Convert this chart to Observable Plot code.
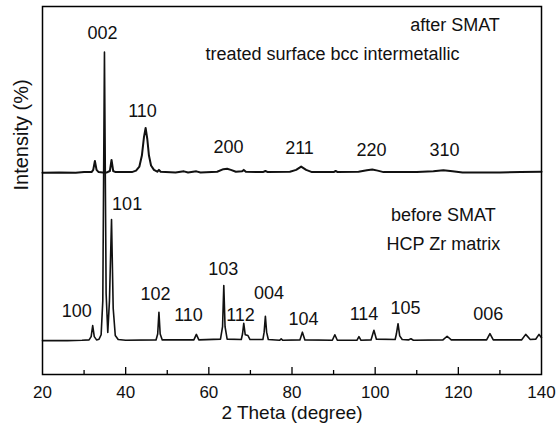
<!DOCTYPE html>
<html><head><meta charset="utf-8">
<script src="https://cdn.jsdelivr.net/npm/d3@7"></script>
<script src="https://cdn.jsdelivr.net/npm/@observablehq/plot@0.6"></script>
<style>body{margin:0;background:#fff}</style>
</head><body><div id="chart"></div>
<script>
// After SMAT (treated surface, bcc intermetallic) — displayed intensity (offset trace)
const afterTheta = [20,24,28,30,31.8,32.2,32.6,33.0,33.5,34.5,35.5,36.2,36.6,37.0,37.6,41.5,42.5,43.3,43.9,44.4,44.8,45.2,45.6,46.1,46.8,47.6,48.0,48.4,52,54,55,57,58,62,63.5,64.4,65.3,66.5,68.0,68.4,68.9,73,73.6,74.2,79.5,81.0,82.2,83.4,84.8,90.0,90.5,91,96,98,99.3,100.6,102,110,114,116.4,118.6,121,130,135,140];
const afterIntensity = [54.8,54.9,54.8,55.0,55.0,55.6,58.0,55.6,55.0,54.9,54.9,55.3,58.3,55.3,55.0,55.0,55.4,56.5,59.5,64.5,67.0,64.0,59.5,56.8,55.6,55.1,55.6,55.1,54.9,55.2,54.9,55.2,54.9,55.1,55.8,55.9,55.6,55.1,55.2,55.6,55.1,55.0,55.3,55.0,55.1,55.6,56.5,55.6,55.0,55.0,55.3,55.0,55.1,55.5,55.7,55.4,55.0,55.0,55.2,55.5,55.2,54.9,54.9,55.0,55.1];

// Before SMAT (HCP Zr matrix)
const beforeTheta = [20,26,29.5,31.2,31.7,32.07,32.45,33.0,33.6,34.1,34.5,34.9,35.3,35.7,36.1,36.6,37.0,37.5,38.2,40,47.3,47.7,48.0,48.3,48.8,56.4,57.0,57.6,62.8,63.3,63.6,63.9,64.4,67.8,68.1,68.4,68.75,69.4,69.9,73.0,73.3,73.6,73.9,74.3,77.0,77.4,77.8,81.9,82.5,83.1,89.7,90.3,90.9,95.6,96.1,96.6,99.0,99.7,100.3,104.8,105.1,105.5,105.9,106.5,108.0,108.6,109.2,116.3,117.3,118.3,126.8,127.6,128.4,135.2,136.2,137.3,138.6,139.4,140];
const beforeIntensity = [9.2,9.2,9.3,9.4,10.3,13.3,10.3,9.4,9.6,10.8,20,87.6,22,11.4,20,42.1,18,10.6,9.5,9.3,9.4,11.0,16.9,11.0,9.4,9.4,10.9,9.4,9.6,13.0,24.2,13.0,9.6,9.5,11.0,13.9,10.8,10.6,9.5,9.5,11.5,15.8,11.5,9.5,9.3,9.7,9.3,9.4,11.5,9.4,9.3,10.8,9.3,9.3,10.3,9.3,9.4,12.0,9.6,9.5,11.0,13.8,10.5,9.5,9.4,9.7,9.3,9.4,10.4,9.4,9.4,11.1,9.4,9.4,10.9,9.5,9.6,10.9,10.0];

// Peak index labels
const peakNames = ["002","110","200","211","220","310","101","103","102","004","100","110","112","104","114","105","006"];
const peakLabelTheta = [34.43,44.05,64.73,81.81,99.13,116.68,40.35,63.46,47.18,74.45,28.23,55.11,67.62,82.77,97.32,107.3,127.17];
const peakLabelIntensity = [92.7,71.5,61.8,61.6,60.9,60.9,46.2,28.7,21.9,22.2,17.2,16.2,16.2,15.1,16.3,17.9,16.5];

// Annotations
const noteTexts = ["after SMAT","treated surface bcc intermetallic","before SMAT","HCP Zr matrix"];
const noteTheta = [119.2,89.75,116.4,116.4];
const noteIntensity = [94.8,86.9,43.4,35.5];

const tickLabels = [20,40,60,80,100,120,140];
const majorTicks = [40,60,80,100,120];
const minorTicks = [30,50,70,90,110,130];

const afterData = afterTheta.map((x,i)=>({x, y: afterIntensity[i]}));
const beforeData = beforeTheta.map((x,i)=>({x, y: beforeIntensity[i]}));
const labelData = peakNames.map((t,i)=>({t, x: peakLabelTheta[i], y: peakLabelIntensity[i]}));
const noteData = noteTexts.map((t,i)=>({t, x: noteTheta[i], y: noteIntensity[i]}));

const chart = Plot.plot({
  width: 556, height: 432,
  marginLeft: 42, marginRight: 15, marginTop: 6, marginBottom: 58,
  style: {fontFamily: "'Liberation Sans', Arial, Helvetica, sans-serif", background: "white", color: "black"},
  x: {domain: [20,140]},
  y: {domain: [0,100], axis: null},
  marks: [
    Plot.tickX(majorTicks, {x: d=>d, insetTop: 361, stroke: "black", strokeWidth: 1.3}),
    Plot.tickX(minorTicks, {x: d=>d, insetTop: 364, stroke: "black", strokeWidth: 1.3}),
    Plot.axisX({ticks: tickLabels, tickSize: 0, tickPadding: 11, fontSize: 17, label: null, fill: "#111"}),
    Plot.line(afterData, {x:"x", y:"y", stroke:"#111", strokeWidth:2, strokeLinejoin:"round"}),
    Plot.line(beforeData, {x:"x", y:"y", stroke:"#111", strokeWidth:1.6, strokeLinejoin:"round"}),
    Plot.text(labelData, {x:"x", y:"y", text:"t", fontSize:18, fill:"#111"}),
    Plot.text(noteData, {x:"x", y:"y", text:"t", fontSize:18, fill:"#111"}),
    Plot.text(["Intensity (%)"], {frameAnchor:"left", dx:-21, rotate:-90, fontSize:20, fill:"#111"}),
    Plot.text(["2 Theta (degree)"], {frameAnchor:"bottom", dy:44, fontSize:19, fill:"#111"}),
    Plot.frame({stroke:"black", strokeWidth:1.5})
  ]
});
document.getElementById("chart").append(chart);
</script>
</body></html>
